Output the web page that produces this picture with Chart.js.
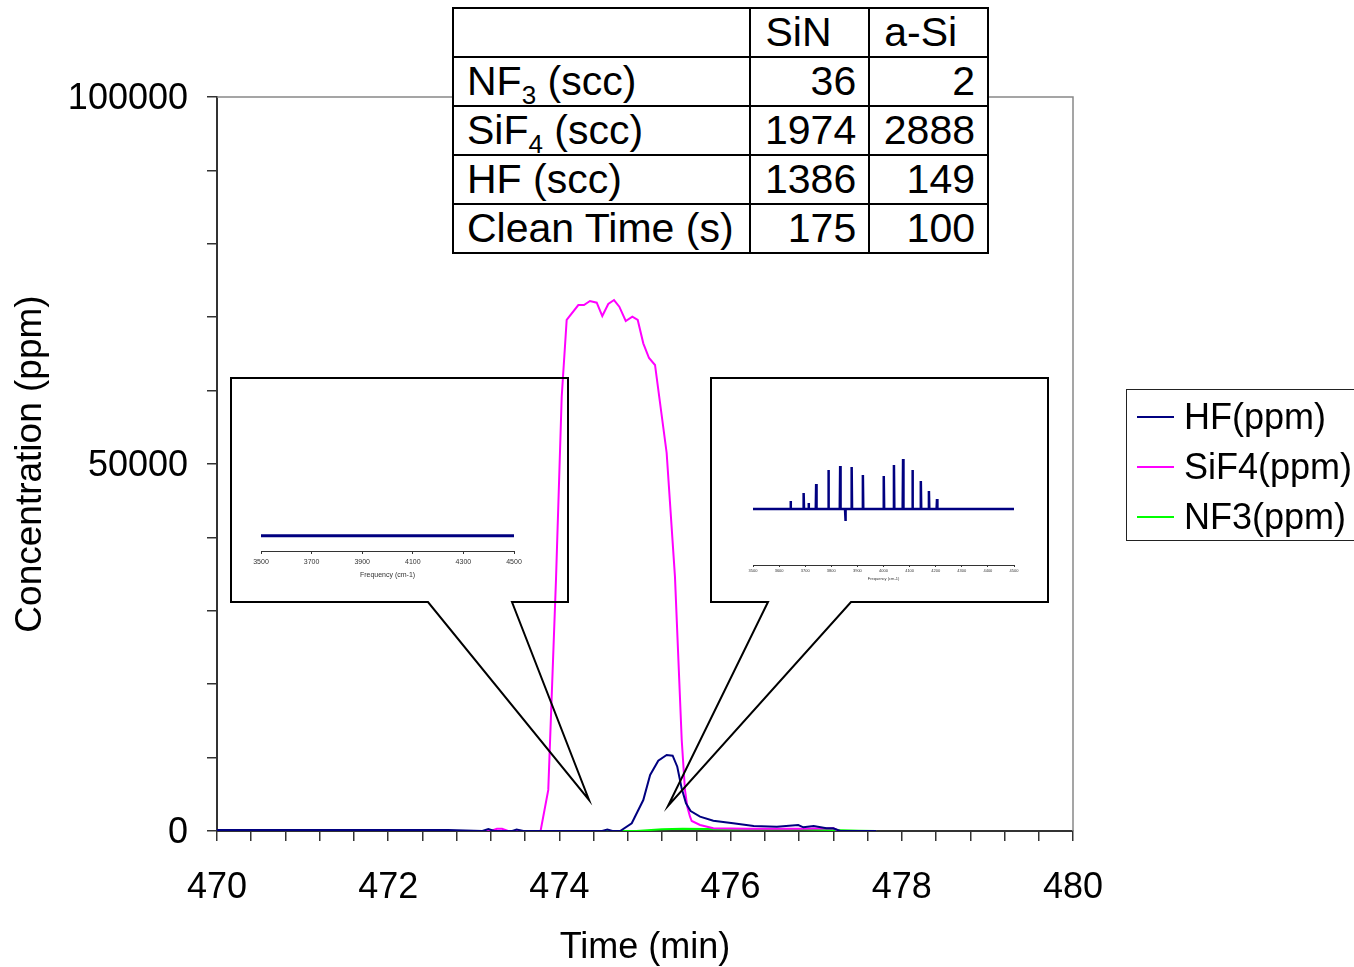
<!DOCTYPE html>
<html lang="en">
<head>
<meta charset="UTF-8">
<title>Chamber clean: HF / SiF4 / NF3 concentration</title>
<script src="https://cdn.jsdelivr.net/npm/chart.js"></script>
<style>
  body { margin: 0; background: #fff; font-family: 'Liberation Sans', Arial, sans-serif; }
  #wrap { position: relative; width: 1354px; height: 967px; overflow: hidden; }
  #main { position: absolute; left: 0; top: 0; }
  .inset { position: absolute; }
  #tbl { position: absolute; left: 452px; top: 7px; width: 537px; height: 247px;
         border-collapse: collapse; background: #fff; font-size: 41px; color: #000; }
  #tbl td { border: 2px solid #000; padding: 0 12px 0 13px; line-height: 1; white-space: nowrap; }
  #tbl td.num { text-align: right; }
  #tbl sub { font-size: 26px; vertical-align: -9px; line-height: 0; }
  #legend { position: absolute; left: 1126px; top: 389px; width: 260px; height: 150px;
            border: 1px solid #222; background: #fff; }
  .item { position: absolute; left: 10px; height: 50px; display: flex; align-items: center;
          font-size: 36px; }
  .swatch { width: 37px; height: 2px; margin-right: 10px; }
</style>
</head>
<body>
<div id="wrap">
  <canvas id="main" width="1354" height="967"></canvas>
  <div class="inset" style="left:231px;top:378px;"><canvas id="insetA" width="338" height="225"></canvas></div>
  <div class="inset" style="left:711px;top:378px;"><canvas id="insetB" width="338" height="225"></canvas></div>
  <table id="tbl"></table>
  <div id="legend"></div>
</div>

<script>
// ---- main trace data (time in min, concentration in ppm) ----
const hfTime = [470.0, 472.7, 473.1, 473.17, 473.24, 473.45, 473.5, 473.58, 474.5, 474.56, 474.62, 474.71,
  474.845, 474.98, 475.06, 475.155, 475.253, 475.323, 475.377, 475.428, 475.479, 475.533, 475.643,
  475.798, 476.03, 476.27, 476.54, 476.79, 476.85, 476.97, 477.12, 477.2, 477.28, 477.7];
const hfPpm = [150, 150, 0, 250, 0, 0, 200, 0, 0, 200, 0, 0,
  1050, 4220, 7630, 9580, 10350, 10260, 8760, 5820, 3770, 2720, 1950,
  1400, 1050, 680, 590, 820, 500, 680, 370, 370, 0, 0];

const sif4Time = [470.0, 473.2, 473.27, 473.33, 473.4, 473.78, 473.87, 473.96, 474.027, 474.085,
  474.221, 474.287, 474.357, 474.436, 474.501, 474.571, 474.638, 474.700, 474.775, 474.852,
  474.915, 474.980, 475.047, 475.117, 475.253, 475.350, 475.429, 475.467, 475.494, 475.526,
  475.546, 475.643, 475.798, 476.2, 476.8, 477.2, 477.27, 477.7];
const sif4Ppm = [0, 0, 300, 300, 0, 0, 5600, 34200, 59170, 69620,
  71660, 71660, 72210, 71980, 70160, 71800, 72340, 71430, 69480, 70070,
  69620, 66440, 64440, 63490, 51500, 34650, 12400, 5590, 3310, 1950,
  1360, 820, 370, 300, 300, 370, 0, 0];

const nf3Time = [470.0, 474.9, 475.2, 475.44, 476.0, 476.8, 477.2, 477.5, 477.7];
const nf3Ppm = [0, 0, 250, 300, 250, 250, 150, 50, 0];

const seriesNames = ['HF(ppm)', 'SiF4(ppm)', 'NF3(ppm)'];
const seriesColors = ['#000080', '#ff00ff', '#00ff00'];

// ---- table ----
const tableHead = ['', 'SiN', 'a-Si'];
const tableRows = ['NF<sub>3</sub> (scc)', 'SiF<sub>4</sub> (scc)', 'HF (scc)', 'Clean Time (s)'];
const sinVals = [36, 1974, 1386, 175];
const asiVals = [2, 2888, 149, 100];

// ---- inset spectra (frequency cm-1, absorbance a.u.) ----
const specAFreq = [3500, 3700, 3900, 4100, 4300, 4500];
const specAAbs = [0, 0, 0, 0, 0, 0];
const specBPeakFreq = [3644, 3694, 3713, 3742, 3789, 3834, 3854, 3878, 3921, 4001, 4040, 4075, 4111, 4143, 4174, 4205];
const specBPeakAbs = [0.08, 0.16, 0.06, 0.25, 0.39, 0.43, -0.12, 0.42, 0.34, 0.33, 0.44, 0.50, 0.39, 0.28, 0.18, 0.10];

Chart.defaults.font.family = "'Liberation Sans', Arial, sans-serif";
Chart.defaults.color = '#000';
Chart.defaults.animation = false;

function pts(xs, ys) { return xs.map((x, i) => ({ x: x, y: ys[i] })); }
const isMult = (v, m) => Math.abs(v / m - Math.round(v / m)) < 1e-6;

const frame = {
  id: 'frame',
  beforeDatasetsDraw(chart) {
    const a = chart.chartArea, ctx = chart.ctx;
    ctx.save();
    ctx.strokeStyle = '#888'; ctx.lineWidth = 1.5;
    ctx.beginPath(); ctx.moveTo(a.left, a.top); ctx.lineTo(a.right, a.top); ctx.lineTo(a.right, a.bottom); ctx.stroke();
    ctx.restore();
  }
};

// callout outlines around the two spectra
const calloutShapes = [
  [[512, 602], [568, 602], [568, 378], [231, 378], [231, 602], [428, 602], [589, 800]],
  [[851, 602], [1048, 602], [1048, 378], [711, 378], [711, 602], [768, 602], [668, 806]]
];
const callouts = {
  id: 'callouts',
  afterDatasetsDraw(chart) {
    const ctx = chart.ctx;
    ctx.save();
    ctx.strokeStyle = '#000'; ctx.lineWidth = 2;
    calloutShapes.forEach(s => {
      ctx.beginPath();
      s.forEach((p, i) => i ? ctx.lineTo(p[0], p[1]) : ctx.moveTo(p[0], p[1]));
      ctx.closePath(); ctx.stroke();
    });
    ctx.restore();
  }
};

new Chart('main', {
  type: 'line',
  data: {
    datasets: [
      { label: seriesNames[0], data: pts(hfTime, hfPpm), borderColor: seriesColors[0] },
      { label: seriesNames[1], data: pts(sif4Time, sif4Ppm), borderColor: seriesColors[1] },
      { label: seriesNames[2], data: pts(nf3Time, nf3Ppm), borderColor: seriesColors[2] }
    ]
  },
  options: {
    responsive: false,
    layout: { padding: { left: 0, top: 97, right: 281, bottom: 0 } },
    elements: { point: { radius: 0 }, line: { borderWidth: 2, tension: 0 } },
    plugins: { legend: { display: false }, tooltip: { enabled: false } },
    scales: {
      x: {
        type: 'linear', min: 470, max: 480,
        afterBuildTicks: s => { const t = []; for (let i = 0; i <= 25; i++) t.push({ value: 470 + i * 0.4 }); s.ticks = t; },
        afterFit: s => { s.height = 136; },
        ticks: { autoSkip: false, maxRotation: 0, padding: 25, font: { size: 36 },
                 callback: v => isMult(v, 2) ? String(Math.round(v)) : '' },
        grid: { drawOnChartArea: false, tickLength: 10, color: '#333', lineWidth: 1.5 },
        border: { color: '#333', width: 2 },
        title: { display: true, text: 'Time (min)', font: { size: 36, lineHeight: 1.05 }, padding: { top: 0, bottom: 0 } }
      },
      y: {
        min: 0, max: 100000,
        afterBuildTicks: s => { const t = []; for (let v = 0; v <= 100000; v += 10000) t.push({ value: v }); s.ticks = t; },
        afterFit: s => { s.width = 217; },
        ticks: { padding: 19, labelOffset: 2, font: { size: 36 }, callback: v => isMult(v, 50000) ? String(v) : '' },
        grid: { drawOnChartArea: false, tickLength: 10, color: '#333', lineWidth: 1.5 },
        border: { color: '#333', width: 2 },
        title: { display: true, text: 'Concentration (ppm)', font: { size: 37 }, padding: { top: 9, bottom: 0 } }
      }
    }
  },
  plugins: [frame, callouts]
});

// left inset: flat spectrum
new Chart('insetA', {
  type: 'line',
  data: { datasets: [{ data: pts(specAFreq, specAAbs), borderColor: '#000080', borderWidth: 3 }] },
  options: {
    responsive: false,
    layout: { padding: { left: 30, right: 55, top: 20, bottom: 0 } },
    elements: { point: { radius: 0 }, line: { tension: 0 } },
    plugins: { legend: { display: false }, tooltip: { enabled: false } },
    scales: {
      x: { type: 'linear', min: 3500, max: 4500,
        afterBuildTicks: s => { s.ticks = [3500, 3700, 3900, 4100, 4300, 4500].map(v => ({ value: v })); },
        afterFit: s => { s.height = 52; },
        ticks: { maxRotation: 0, padding: 4, font: { size: 7 }, color: '#333', callback: v => String(v) },
        grid: { drawOnChartArea: false, tickLength: 3, color: '#333' },
        border: { color: '#333', width: 1 },
        title: { display: true, text: 'Frequency (cm-1)', font: { size: 7 }, color: '#333', padding: { top: 0, bottom: 24 } } },
      y: { display: false, min: -0.1, max: 0.9 }
    }
  }
});

// right inset: HF rotational lines
const specB = [{ x: 3500, y: 0 }];
specBPeakFreq.forEach((f, i) => { specB.push({ x: f - 1.5, y: 0 }, { x: f, y: specBPeakAbs[i] }, { x: f + 1.5, y: 0 }); });
specB.push({ x: 4500, y: 0 });

new Chart('insetB', {
  type: 'line',
  data: { datasets: [{ data: specB, borderColor: '#000080', borderWidth: 2.5 }] },
  options: {
    responsive: false,
    layout: { padding: { left: 42, right: 35, top: 30, bottom: 0 } },
    elements: { point: { radius: 0 }, line: { tension: 0 } },
    plugins: { legend: { display: false }, tooltip: { enabled: false } },
    scales: {
      x: { type: 'linear', min: 3500, max: 4500,
        afterBuildTicks: s => { const t = []; for (let v = 3500; v <= 4500; v += 100) t.push({ value: v }); s.ticks = t; },
        afterFit: s => { s.height = 38; },
        ticks: { autoSkip: false, maxRotation: 0, padding: 1, font: { size: 4 }, color: '#333', callback: v => String(v) },
        grid: { drawOnChartArea: false, tickLength: 2, color: '#333' },
        border: { color: '#333', width: 1 },
        title: { display: true, text: 'Frequency (cm-1)', font: { size: 4 }, color: '#333', padding: { top: 0, bottom: 22 } } },
      y: { display: false, min: -0.56, max: 1.01 }
    }
  }
});

// table
const tbl = document.getElementById('tbl');
tbl.innerHTML = '<colgroup><col style="width:299px"><col style="width:119px"><col style="width:119px"></colgroup>' +
  '<tr>' + tableHead.map((h, i) => '<td style="padding-left:' + (i ? 14 : 13) + 'px">' + h + '</td>').join('') + '</tr>' +
  tableRows.map((r, i) => '<tr><td>' + r + '</td><td class="num">' + sinVals[i] + '</td><td class="num">' + asiVals[i] + '</td></tr>').join('');

// legend
const lg = document.getElementById('legend');
seriesNames.forEach((n, i) => {
  const d = document.createElement('div');
  d.className = 'item';
  d.style.top = (2 + i * 50) + 'px';
  d.innerHTML = '<span class="swatch" style="background:' + seriesColors[i] + '"></span>' + n;
  lg.appendChild(d);
});
</script>
</body>
</html>
